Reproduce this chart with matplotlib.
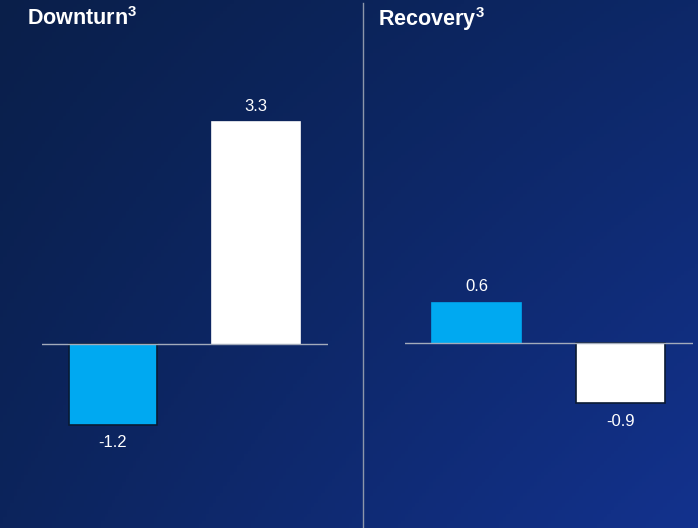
"""Two-panel bar chart: downturn vs recovery."""

import numpy as np
import matplotlib
matplotlib.use("Agg")
import matplotlib.pyplot as plt

plt.rcParams["font.family"] = ["Liberation Sans", "DejaVu Sans"]
plt.rcParams["mathtext.default"] = "regular"

# Chart data
panel_titles = ["Downturn", "Recovery"]
blue_values = [-1.2, 0.6]
white_values = [3.3, -0.9]

BLUE = "#00a9f1"
WHITE = "#ffffff"
EDGE = "#0a1a33"
BASELINE = "#a3abbb"

W, H = 698, 528
fig = plt.figure(figsize=(W / 100, H / 100), dpi=100)

# Diagonal navy gradient background
bg = fig.add_axes([0, 0, 1, 1])
corners = {
    "tl": np.array([10, 31, 74]),
    "tr": np.array([13, 40, 104]),
    "bl": np.array([12, 36, 92]),
    "br": np.array([19, 50, 142]),
}
u = np.linspace(0, 1, 200)[None, :, None]
v = np.linspace(0, 1, 150)[:, None, None]
img = ((1 - u) * (1 - v) * corners["tl"] + u * (1 - v) * corners["tr"]
       + (1 - u) * v * corners["bl"] + u * v * corners["br"]) / 255.0
bg.imshow(img, aspect="auto", extent=[0, 1, 0, 1], origin="upper")
bg.set_xlim(0, 1)
bg.set_ylim(0, 1)
bg.axis("off")

# Divider between the panels
bg.plot([363 / W, 363 / W], [0, 1 - 3 / H], color="#8c96aa", lw=1.0)


def px_axes(x0, x1, y_top, y_bot):
    return fig.add_axes([x0 / W, 1 - y_bot / H, (x1 - x0) / W, (y_bot - y_top) / H])


px_per_unit = 67.2
y_top, y_bot = 40, 500
panel_specs = [
    {"x0": 41.5, "x1": 327.5, "zero": 344, "title_x": 27},
    {"x0": 404.5, "x1": 692.5, "zero": 343, "title_x": 378},
]

for title, bv, wv, spec in zip(panel_titles, blue_values, white_values, panel_specs):
    ax = px_axes(spec["x0"], spec["x1"], y_top, y_bot)
    ax.set_facecolor("none")
    ax.set_xlim(-0.5, 1.5)
    ax.set_ylim(-(y_bot - spec["zero"]) / px_per_unit, (spec["zero"] - y_top) / px_per_unit)
    ax.axis("off")

    vals = [bv, wv]
    colors = [BLUE, WHITE]
    for i, (val, col) in enumerate(zip(vals, colors)):
        ax.bar(i, val, width=0.62, color=col,
               edgecolor=EDGE if val < 0 else col, linewidth=1.2, zorder=2)
        off = 11.5 if val > 0 else -13
        ax.annotate(f"{val:.1f}", (i, val), xytext=(0, off), textcoords="offset points",
                    ha="center", va="center", color="white", fontsize=12)
    ax.axhline(0, color=BASELINE, lw=1.0, zorder=3)

    fig.text(spec["title_x"] / W, 1 - 19 / H, title + "$^3$", color="white",
             fontsize=15.5, fontweight="bold", ha="left", va="center")

fig.savefig("out.png", dpi=100)
